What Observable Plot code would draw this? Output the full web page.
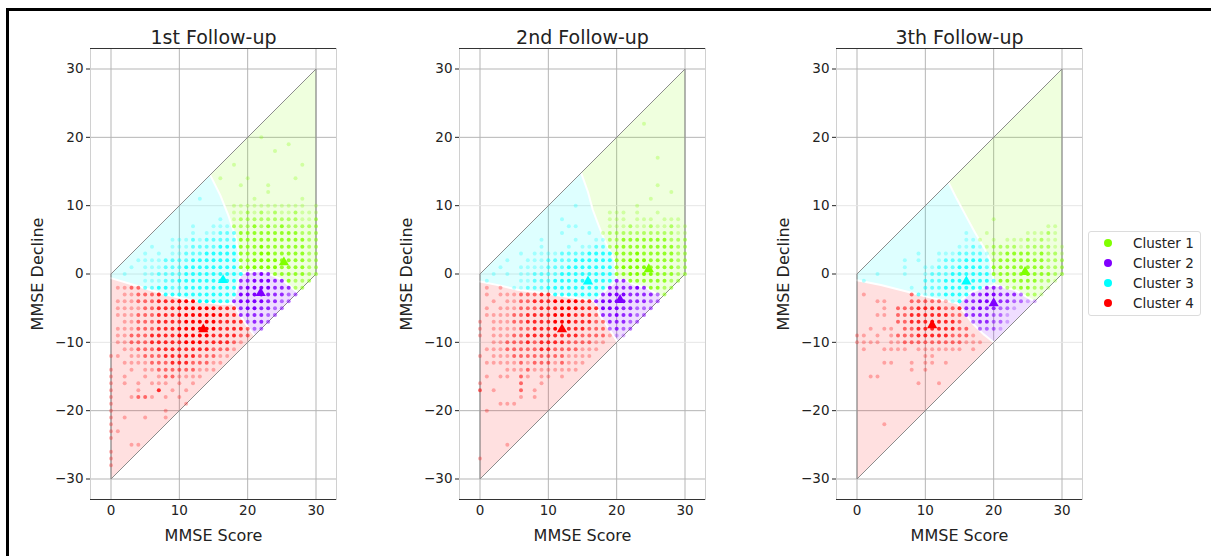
<!DOCTYPE html>
<html><head><meta charset="utf-8">
<script src="https://cdn.jsdelivr.net/npm/d3@7"></script>
<script src="https://cdn.jsdelivr.net/npm/@observablehq/plot@0.6"></script>
<style>
body{margin:0;background:#fff;width:1211px;height:556px;overflow:hidden;position:relative;font-family:"DejaVu Sans",sans-serif;}
#frame{position:absolute;left:6px;top:8px;width:1220px;height:560px;border-left:3px solid #000;border-top:3px solid #000;}
.panel{position:absolute;top:0;}
#legend{position:absolute;left:1088px;top:231px;width:111px;height:83px;border:1px solid #dcdcdc;border-radius:3px;background:#fff;z-index:5;}
.item{position:absolute;left:0;height:20px;font-size:13.5px;color:#222;line-height:20px;white-space:nowrap;}
.item span.m{position:absolute;left:15px;top:6px;width:8px;height:8px;border-radius:50%;}
.item span.t{position:absolute;left:44px;top:0;}
</style></head><body>
<div id="frame"></div>
<div id="p0" class="panel" style="left:30px"></div>
<div id="p1" class="panel" style="left:399px"></div>
<div id="p2" class="panel" style="left:776px"></div>
<div id="legend"></div>
<script>
const clusterNames = ["Cluster 1", "Cluster 2", "Cluster 3", "Cluster 4"];
const clusterColors = ["#80ff00", "#8000ff", "#00ffff", "#ff0000"];
const panelTitles = ["1st Follow-up", "2nd Follow-up", "3th Follow-up"];
const xTicks = [0, 10, 20, 30];
const yTicks = [-30, -20, -10, 0, 10, 20, 30];
const xLabel = "MMSE Score";
const yLabel = "MMSE Decline";

// point rows: [decline, string of intensities for MMSE score 0..30]
const rows1 = [
 [20,"0000000000|0000000000|0010000000|0"],
 [19,"0000000000|0000000000|0000001000|0"],
 [18,"0000000000|0000000000|0000100000|0"],
 [16,"0000000000|0000000010|0000000010|0"],
 [14,"0000000000|0000001000|1000000100|0"],
 [13,"0000000000|0000000001|0001000000|0"],
 [12,"0000000000|0000000000|0001000000|0"],
 [11,"0000000000|0001000000|0100000010|0"],
 [10,"0000000000|0000000011|1111111110|1"],
 [9, "0000000000|0000000011|2121211211|1"],
 [8, "0000000000|0000001012|2222222211|2"],
 [7, "0000000000|0010011122|2323232222|2"],
 [6, "0000000000|0010112223|3333333322|2"],
 [5, "0000000001|1121222223|3333333332|2"],
 [4, "0000001001|1122223333|3343333332|2"],
 [3, "0000010101|1222333333|3344333332|2"],
 [2, "0000111122|2233333333|3444433332|2"],
 [1, "0001011122|2333333333|4444433332|2"],
 [0, "0010011222|2333333333|3343333332|2"],
 [-1,"0000011122|3333333333|3444333222|0"],
 [-2,"0112222332|2333333333|4444333220|0"],
 [-3,"0011222333|3333333334|4443332200|0"],
 [-4,"0111222333|4444443334|4443322000|0"],
 [-5,"0111122333|4444443333|4433220000|0"],
 [-6,"0111222333|4444444333|3332200000|0"],
 [-7,"0011222333|3444443333|2332000000|0"],
 [-8,"0111222333|4444443333|2220000000|0"],
 [-9,"0112223333|4444433332|2000000000|0"],
 [-10,"0112223333|3444333321|0000000000|0"],
 [-11,"0011222333|3333322210|0000000000|0"],
 [-12,"1101122233|3332221100|0000000000|0"],
 [-13,"0011112223|3322211000|0000000000|0"],
 [-14,"1001011222|2221110000|0000000000|0"],
 [-15,"1010010122|1111000000|0000000000|0"],
 [-16,"1010101110|1010000000|0000000000|0"],
 [-17,"1000100301|0100000000|0000000000|0"],
 [-18,"1001221010|1000000000|0000000000|0"],
 [-19,"1000000000|0100000000|0000000000|0"],
 [-20,"1000000010|0000000000|0000000000|0"],
 [-21,"1010010010|0000000000|0000000000|0"],
 [-22,"1000000000|0000000000|0000000000|0"],
 [-23,"1100000000|0000000000|0000000000|0"],
 [-24,"1000000000|0000000000|0000000000|0"],
 [-25,"0001100000|0000000000|0000000000|0"],
 [-26,"1000000000|0000000000|0000000000|0"],
 [-27,"1000000000|0000000000|0000000000|0"],
 [-28,"1000000000|0000000000|0000000000|0"]
];
const rows2 = [
 [22,"0000000000|0000000000|0000100000|0"],
 [17,"0000000000|0000000000|0000001000|0"],
 [13,"0000000000|0000000000|0000001000|0"],
 [12,"0000000000|0000000000|0000000010|0"],
 [11,"0000000000|0000000000|0000010000|0"],
 [10,"0000000000|0000100000|0001000000|0"],
 [9, "0000000000|0000000001|1101001000|0"],
 [8, "0000000000|0010000001|1101110111|0"],
 [7, "0000000000|0001100001|1121121121|1"],
 [6, "0000000000|0010001012|2222222221|1"],
 [5, "0000000001|0000100112|2333333322|2"],
 [4, "0000000001|0001011222|3333333332|2"],
 [3, "0000001011|1122223333|3334333332|2"],
 [2, "0000100111|2222333333|3344433332|2"],
 [1, "0001001111|2223333333|3444433332|2"],
 [0, "0010101122|2233333333|3344443332|2"],
 [-1,"0100001122|2333333333|3333333322|0"],
 [-2,"0101011222|3333333333|3334333220|0"],
 [-3,"0101112223|3333333334|4433332200|0"],
 [-4,"0010112233|3444433344|4433322000|0"],
 [-5,"0101112223|3344433344|4332220000|0"],
 [-6,"0111122333|3444333233|4332200000|0"],
 [-7,"1011122333|3444333223|3322000000|0"],
 [-8,"1011112233|3443332222|3220000000|0"],
 [-9,"1011122333|3333322221|1100000000|0"],
 [-10,"0011222323|3332222110|0000000000|0"],
 [-11,"0111222223|3222211100|0000000000|0"],
 [-12,"1011122222|2221111000|0000000000|0"],
 [-13,"0111112122|2121110000|0000000000|0"],
 [-14,"0000111211|1111100000|0000000000|0"],
 [-15,"0101102101|1010000000|0000000000|0"],
 [-16,"1000002001|0000000000|0000000000|0"],
 [-17,"2010002010|0000000000|0000000000|0"],
 [-18,"0000001010|0000000000|0000000000|0"],
 [-19,"0001110000|0000000000|0000000000|0"],
 [-20,"0100000000|0000000000|0000000000|0"],
 [-25,"0000100000|0000000000|0000000000|0"],
 [-27,"1000000000|0000000000|0000000000|0"]
];
const rows3 = [
 [8, "0000000000|0000000000|1000000000|0"],
 [7, "0000000000|0000000000|0000000011|0"],
 [6, "0000000000|0000001001|0000011121|0"],
 [5, "0000000000|0000001110|1011121211|0"],
 [4, "0000000000|0000011211|2222122221|1"],
 [3, "0000000001|0011122221|2233332322|1"],
 [2, "0000000101|0012223332|2333333322|2"],
 [1, "0000000100|1122233332|3333333322|2"],
 [0, "0001000100|1222333333|3333343332|2"],
 [-1,"0100000000|2223333333|2333333221|0"],
 [-2,"0000000010|2223333333|3222332210|0"],
 [-3,"0100000022|1223333334|4333222100|0"],
 [-4,"0001100022|2221133344|3332211000|0"],
 [-5,"0000102223|3332233343|3221000000|0"],
 [-6,"0001102233|3333223333|2210000000|0"],
 [-7,"0000002233|3433320233|2210000000|0"],
 [-8,"0010110223|3333322022|2100000000|0"],
 [-9,"1101012223|3333222100|0000000000|0"],
 [-10,"1111011222|2222221110|0000000000|0"],
 [-11,"0100111101|1111110100|0000000000|0"],
 [-12,"0000000000|1100000000|0000000000|0"],
 [-13,"0000110010|1101000000|0000000000|0"],
 [-14,"0000000010|1000000000|0000000000|0"],
 [-15,"0011000000|0000000000|0000000000|0"],
 [-16,"0000000001|0010000000|0000000000|0"],
 [-22,"0000100000|0000000000|0000000000|0"]
];

// cluster centroids (cluster 1..4): [MMSE score, decline]
const centroids1 = [[25.3, 1.7], [21.9, -2.8], [16.4, -0.9], [13.5, -8.1]];
const centroids2 = [[24.7, 0.7], [20.5, -3.8], [15.8, -1.1], [12.0, -8.1]];
const centroids3 = [[24.6, 0.3], [20.0, -4.3], [16.0, -1.1], [11.0, -7.5]];

// region boundaries: gc green/cyan, gp green/purple, cp cyan/purple, rc red/cyan, rp red/purple
const bounds1 = {
  gc: [[14.5,14.5],[16,11.5],[17.2,8.5],[18.2,5.5],[18.8,2.5],[19,0.1]],
  gp: [[19,0.1],[22,0.5],[25,-0.8],[27.3,-2.7]],
  cp: [[19,0.1],[17.8,-4.3]],
  rc: [[0,-0.6],[4,-1.8],[8,-3],[12,-3.9],[16,-4.4],[17.8,-4.3]],
  rp: [[17.8,-4.3],[18.5,-5.5],[20.2,-8],[21,-9]]
};
const bounds2 = {
  gc: [[14.8,14.8],[15.8,12],[16.5,9.4],[17.4,7],[18.2,5],[19.7,2],[20,-0.9]],
  gp: [[20,-0.9],[21.4,-0.9],[22.4,-1.5],[24.5,-2.1],[26.6,-3.4]],
  cp: [[20,-0.9],[18.5,-2.3],[16.8,-4]],
  rc: [[0,-1.1],[3,-1.7],[5.5,-2.3],[10,-2.9],[14,-3.5],[16.8,-4]],
  rp: [[16.8,-4],[17.5,-6],[19,-8.2],[20.1,-9.9]]
};
const bounds3 = {
  gc: [[13.4,13.4],[14.6,11],[16,8.4],[17.3,6],[18.5,4],[19.5,2],[20.1,-1.6]],
  gp: [[20.1,-1.6],[23,-2.3],[26,-4]],
  cp: [[20.1,-1.6],[18.1,-2.1],[16.5,-2.8],[14.7,-4.3]],
  rc: [[0,-0.9],[3.5,-1.6],[7.4,-2.6],[11.3,-3.6],[14.7,-4.3]],
  rp: [[14.7,-4.3],[16.9,-7.2],[18.5,-8.8],[20,-10]]
};
const outline = [[0,0],[30,30],[30,0],[0,-30],[0,0]];
const alphas = [0, 0.28, 0.55, 0.82, 1];

const panels = [
  {rows: rows1, cents: centroids1, b: bounds1},
  {rows: rows2, cents: centroids2, b: bounds2},
  {rows: rows3, cents: centroids3, b: bounds3}
];

const rev = a => a.slice().reverse();
function buildRegions(b) {
  return [
    [[30,30],[30,0], ...rev(b.gp), ...rev(b.gc)],
    [...b.gp, ...rev(b.rp), ...rev(b.cp)],
    [[0,0], ...b.gc, ...b.cp, ...rev(b.rc)],
    [...b.rc, ...b.rp, [0,-30]]
  ];
}
function parseRows(rows) {
  const pts = [];
  for (const [d, s] of rows) {
    const str = s.replace(/\|/g, "");
    for (let x = 0; x < str.length; x++) {
      const v = +str[x];
      if (v > 0 && x >= d && x <= d + 30) pts.push({x, y: d, v});
    }
  }
  return pts;
}
function assign(p, regions) {
  const q = [p.x + (15 - p.x) * 0.01, p.y + (0 - p.y) * 0.01];
  for (let i = 0; i < 4; i++) if (d3.polygonContains(regions[i], q)) return i;
  return 3;
}
const fmt = d => d < 0 ? "\u2212" + Math.abs(d) : String(d);
const X = d => d[0], Y = d => d[1];

panels.forEach((P, k) => {
  const regions = buildRegions(P.b);
  const pts = parseRows(P.rows).map(p => ({...p, c: assign(p, regions)}));
  const marks = [
    Plot.gridX(xTicks, {stroke: "#b5b5b5", strokeOpacity: 1}),
    Plot.gridY([-30, -20, 20, 30], {stroke: "#b5b5b5", strokeOpacity: 1}),
    Plot.gridY([-10, 0, 10], {stroke: "#e6e6e6", strokeOpacity: 1}),
    Plot.frame({stroke: "#d0d0d0"}),
    ...regions.map((poly, i) => Plot.line(poly, {x: X, y: Y, curve: "linear-closed", fill: clusterColors[i], fillOpacity: i === 3 ? 0.12 : 0.13, stroke: "none"})),
    ...Object.values(P.b).map(l => Plot.line(l, {x: X, y: Y, stroke: "white", strokeWidth: 2})),
    Plot.line(outline, {x: X, y: Y, stroke: "#8c8c8c", strokeWidth: 1}),
    Plot.ruleY([33, -33], {stroke: "#333", strokeWidth: 1.2}),
    ...clusterColors.map((col, i) => Plot.dot(pts.filter(p => p.c === i), {x: "x", y: "y", r: 2, fill: col, fillOpacity: d => alphas[d.v], stroke: "none"})),
    ...P.cents.map((c, i) => Plot.dot([c], {x: X, y: Y, symbol: "triangle", r: 3.8, fill: clusterColors[i], stroke: "none"})),
    Plot.axisX(xTicks, {tickSize: 0, tickPadding: 6, tickFormat: fmt, fontSize: 13.5, label: null}),
    Plot.axisY(yTicks, {tickSize: 4, tickPadding: 3, tickFormat: fmt, fontSize: 13.5, label: null}),
    Plot.text([panelTitles[k]], {text: d => d, frameAnchor: "top", dy: -11, lineAnchor: "middle", fontSize: 19}),
    Plot.text([xLabel], {text: d => d, frameAnchor: "bottom", dy: 36, lineAnchor: "middle", fontSize: 16}),
    Plot.text([yLabel], {text: d => d, frameAnchor: "left", dx: -53, rotate: -90, textAnchor: "middle", lineAnchor: "middle", fontSize: 16})
  ];
  const chart = Plot.plot({
    width: 326, height: 556,
    marginLeft: 60, marginRight: 20, marginTop: 48, marginBottom: 57,
    x: {domain: [-3, 33]},
    y: {domain: [-33, 33]},
    style: {fontFamily: '"DejaVu Sans", sans-serif', background: "transparent", color: "#222", overflow: "visible"},
    marks
  });
  document.getElementById("p" + k).appendChild(chart);
});

const legend = document.getElementById("legend");
clusterNames.forEach((name, i) => {
  const it = document.createElement("div");
  it.className = "item";
  it.style.top = (1 + i * 20) + "px";
  it.innerHTML = `<span class="m" style="background:${clusterColors[i]}"></span><span class="t">${name}</span>`;
  legend.appendChild(it);
});
</script>
</body></html>
